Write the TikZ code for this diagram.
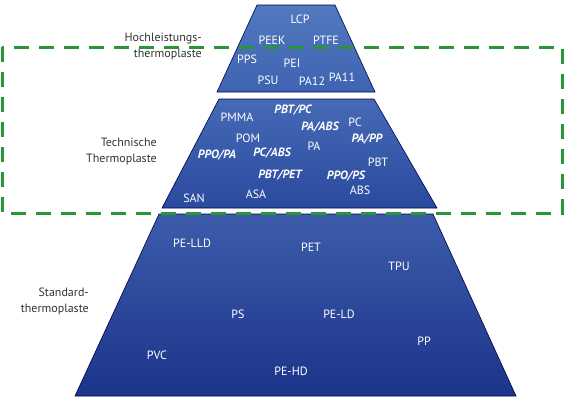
\documentclass[tikz,border=0pt]{standalone}
\usepackage{fontspec}
\setmainfont{PT Sans}
\begin{document}
\begin{tikzpicture}[x=1pt,y=-1pt,
  lbl/.style={text=white,font=\fontsize{12}{14}\selectfont,inner sep=0pt},
  blbl/.style={text=white,font=\fontsize{12}{14}\selectfont\bfseries\itshape,inner sep=0pt},
  side/.style={text=black!80,font=\fontsize{12}{16}\selectfont,align=right,inner sep=0pt,anchor=east},
  tier/.style={draw=blue!30!black,line width=0.6pt}]
\useasboundingbox (0,0) rectangle (564,399);
% tiers
\shade[tier,top color={rgb,255:red,82;green,120;blue,190},bottom color={rgb,255:red,62;green,100;blue,178}]
  (257,5) -- (335,5) -- (375,92) -- (217,92) -- cycle;
\shade[tier,top color={rgb,255:red,70;green,106;blue,182},bottom color={rgb,255:red,42;green,74;blue,158}]
  (219,99) -- (374,99) -- (437,208) -- (162,208) -- cycle;
\shade[tier,top color={rgb,255:red,60;green,92;blue,170},bottom color={rgb,255:red,28;green,52;blue,138}]
  (159,214) -- (433,214) -- (516,396) -- (75,396) -- cycle;
% top tier labels
\node[lbl] (lcp) at (300,19) {LCP};
\node[lbl] (peek) at (272,40) {PEEK};
\node[lbl] (ptfe) at (326,40) {PTFE};
\node[lbl] (pps) at (247,59) {PPS};
\node[lbl] (pei) at (292,63) {PEI};
\node[lbl] (psu) at (268,80) {PSU};
\node[lbl] (pa12) at (312,81) {PA12};
\node[lbl] (pa11) at (342,77) {PA11};
% middle tier labels
\node[lbl] (pmma) at (237,117) {PMMA};
\node[blbl] (pbtpc) at (293,110) {PBT/PC};
\node[lbl] (pc) at (355,122) {PC};
\node[blbl] (paabs) at (320,127) {PA/ABS};
\node[blbl] (papp) at (367,139) {PA/PP};
\node[lbl] (pom) at (248,138) {POM};
\node[lbl] (pa) at (314,146) {PA};
\node[blbl] (ppopa) at (217,155) {PPO/PA};
\node[blbl] (pcabs) at (272,153) {PC/ABS};
\node[lbl] (pbt) at (378,162) {PBT};
\node[blbl] (pbtpet) at (280,175) {PBT/PET};
\node[blbl] (ppops) at (346,176) {PPO/PS};
\node[lbl] (abs) at (360,190) {ABS};
\node[lbl] (asa) at (256,194) {ASA};
\node[lbl] (san) at (194,198) {SAN};
% bottom tier labels
\node[lbl] (pelld) at (192,243) {PE-LLD};
\node[lbl] (pet) at (311,247) {PET};
\node[lbl] (tpu) at (399,266) {TPU};
\node[lbl] (ps) at (238,314) {PS};
\node[lbl] (peld) at (339,314) {PE-LD};
\node[lbl] (pp) at (424,341) {PP};
\node[lbl] (pvc) at (157,355) {PVC};
\node[lbl] (pehd) at (291,371) {PE-HD};
% side labels
\node[side] (hoch) at (202,46) {Hochleistungs-\\thermoplaste};
\node[side] (tech) at (157,151) {Technische\\Thermoplaste};
\node[side] (std) at (89,301) {Standard-\\thermoplaste};
% dashed frame
\draw[draw={rgb,255:red,40;green,150;blue,55},line width=3pt,dash pattern=on 15pt off 10pt]
  (2,47) rectangle (562,213);
\end{tikzpicture}
\end{document}
